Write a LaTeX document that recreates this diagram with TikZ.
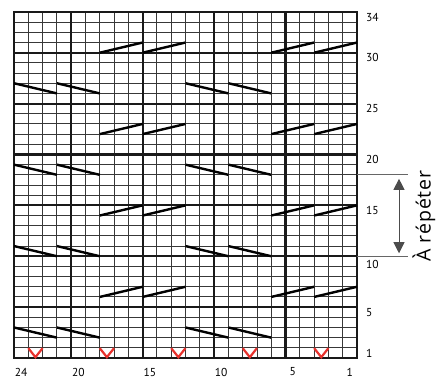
\documentclass[tikz,border=0pt]{standalone}
\usepackage{fontspec}
\setmainfont{PT Sans}
\newfontfamily\repfont[LetterSpace=5]{Open Sans}
\usetikzlibrary{arrows.meta}
\definecolor{vred}{RGB}{232,50,45}
\begin{document}
\begin{tikzpicture}[x=1pt,y=1pt,
  thingrid/.style={draw=black!78, line width=0.9pt},
  thickgrid/.style={draw=black!90, line width=2.1pt},
  cable/.style={draw=black, line width=2.4pt},
  vmark/.style={draw=vred, line width=2.2pt, miter limit=10},
  numlabel/.style={font=\fontsize{11.5}{12}\selectfont, inner sep=0pt},
  repline/.style={draw=black!60, line width=0.8pt},
  reparrow/.style={draw=black!70, line width=0.8pt, {Triangle[width=11pt,length=11pt]}-{Triangle[width=11pt,length=11pt]}},
  reptext/.style={font=\repfont\fontsize{19.5}{21}\selectfont, inner sep=0pt, rotate=90}
]
\useasboundingbox (0,0) rectangle (443,378);
\begin{scope}[shift={(14pt,20pt)}, x=14.2917pt, y=10.1765pt]
  % thin grid
  \foreach \i in {1,...,23} \draw[thingrid] (\i,0) -- (\i,34);
  \foreach \j in {1,...,33} \draw[thingrid] (0,\j) -- (24,\j);
  % thick grid
  \foreach \i in {4,9,14,19} \draw[thickgrid] (\i,0) -- (\i,34);
  \foreach \j in {5,10,15,20,25,30} \draw[thickgrid] (0,\j) -- (24,\j);
  \draw[thickgrid] (0,0) rectangle (24,34);
  % rising cable symbols
  \foreach \r in {6,14,22,30} {
    \foreach \a in {6,9,18,21} \draw[cable] (\a,\r) -- ++(3,1);
  }
  % falling cable symbols
  \foreach \r in {3,11,19,27} {
    \foreach \a in {0,3,12,15} \draw[cable] (\a,\r) -- ++(3,-1);
  }
  % red V marks in row 1
  \foreach \a in {1,6,11,16,21} \draw[vmark] (\a,0.97) -- (\a+0.5,0.08) -- (\a+1,0.97);
  % right row labels
  \foreach \n in {1,5,15,20,25,30,34}
    \node[numlabel, anchor=west, xshift=9pt] (r\n) at (24,\n-0.5) {\n};
  \node[numlabel, anchor=west, xshift=9pt, yshift=-3pt] (r10) at (24,9.5) {10};
  % bottom column labels
  \foreach \n in {24,20,15,10,5,1}
    \node[numlabel, yshift=-14pt] (c\n) at (24-\n+0.5,0) {\n};
  % repeat marker
  \coordinate (topA) at (24,18);
  \coordinate (botA) at (24,10);
  \draw[repline] (topA) -- ++(51pt,0) coordinate (topB);
  \draw[repline] (botA) -- ++(51pt,0) coordinate (botB);
  \coordinate (arrT) at ([xshift=42pt,yshift=-4pt]topA);
  \coordinate (arrB) at ([xshift=42pt,yshift=3pt]botA);
  \draw[reparrow] (arrT) -- (arrB);
  \node[reptext] (rep) at ([xshift=67pt]24,13.95) {À répéter};
\end{scope}
\end{tikzpicture}
\end{document}
